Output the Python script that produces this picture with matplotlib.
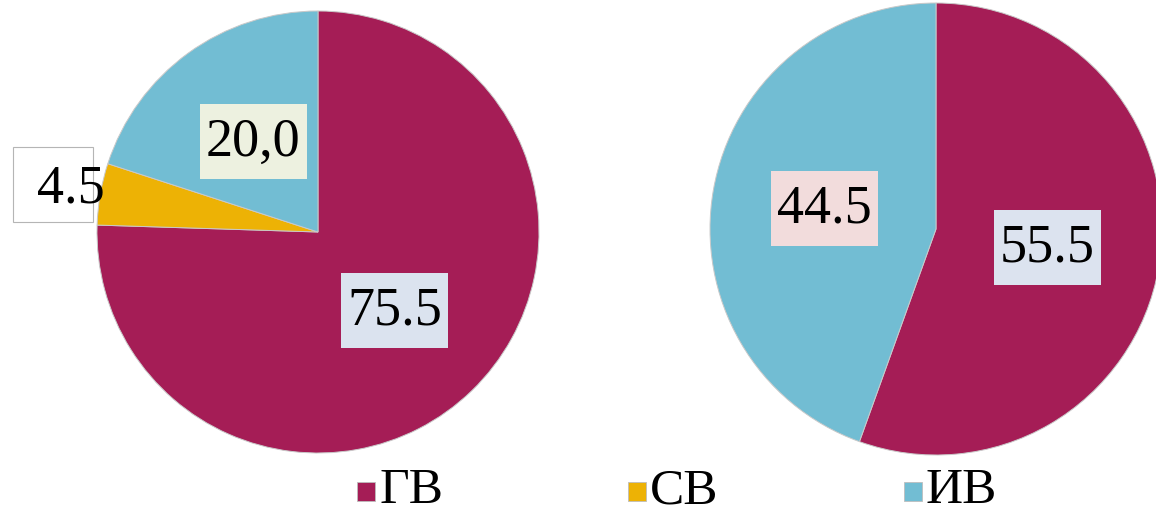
import matplotlib
matplotlib.use("Agg")
import matplotlib.pyplot as plt
from matplotlib.patches import Rectangle
import numpy as np

# Categories and shares (%) for the two pies
categories = ["ГВ", "СВ", "ИВ"]
left_values = [75.5, 4.5, 20.0]
left_labels = ["75.5", "4.5", "20,0"]
right_categories = ["ГВ", "ИВ"]
right_values = [55.5, 44.5]
right_labels = ["55.5", "44.5"]

colors = {"ГВ": "#A51D56", "СВ": "#EDB205", "ИВ": "#72BDD3"}
box_colors = {
    "left": {"ГВ": "#DBE3EF", "СВ": "white", "ИВ": "#EDF1E0"},
    "right": {"ГВ": "#DCE3EF", "ИВ": "#F2DCDC"},
}

plt.rcParams["font.family"] = ["Liberation Serif", "DejaVu Serif"]

W, H = 1156, 514
fig = plt.figure(figsize=(W / 100, H / 100), dpi=100)


def pie_axes(cx, cy, r):
    ax = fig.add_axes([(cx - r) / W, (H - cy - r) / H, 2 * r / W, 2 * r / H])
    ax.set_xlim(-1, 1)
    ax.set_ylim(-1, 1)
    ax.axis("off")
    return ax


def label_box(ax, x, y, r_px, w_px, h_px, dx_px, dy_px, face, edge):
    bw, bh = w_px / r_px, h_px / r_px
    bx = x + dx_px / r_px - bw / 2
    by = y + dy_px / r_px - bh / 2
    ax.add_patch(Rectangle((bx, by), bw, bh, facecolor=face, edgecolor=edge,
                           linewidth=0.8, clip_on=False, zorder=3))


def draw_pie(ax, cats, values, labels, boxes, r_px):
    wedges, _ = ax.pie(values, colors=[colors[c] for c in cats], startangle=90,
                       counterclock=False, radius=1,
                       wedgeprops=dict(edgecolor="#c9c9c9", linewidth=0.7))
    ax.set_xlim(-1, 1)
    ax.set_ylim(-1, 1)
    total = sum(values)
    for w, c, v, lab in zip(wedges, cats, values, labels):
        mid = np.deg2rad((w.theta1 + w.theta2) / 2)
        if v / total < 0.1:
            # small slice: label sits outside in a framed white box
            d = 1.133
            x, y = d * np.cos(mid), d * np.sin(mid)
            label_box(ax, x, y, r_px, 80, 75, -18, 4.5, "white", "#b5b5b5")
        else:
            d = 0.5
            x, y = d * np.cos(mid), d * np.sin(mid)
            label_box(ax, x, y, r_px, 107, 75, 0, 1, boxes[c], "none")
        ax.text(x, y, lab, ha="center", va="center", fontsize=39,
                color="black", zorder=4, clip_on=False)


ax1 = pie_axes(318, 232, 221)
draw_pie(ax1, categories, left_values, left_labels, box_colors["left"], 221)

ax2 = pie_axes(936, 229, 226)
draw_pie(ax2, right_categories, right_values, right_labels, box_colors["right"], 226)

# Legend along the bottom
legend_x = [357, 628, 904]
for c, lx in zip(categories, legend_x):
    fig.patches.append(Rectangle((lx / W, 13 / H), 18 / W, 19 / H,
                                 transform=fig.transFigure, facecolor=colors[c],
                                 edgecolor="#bdbdbd", linewidth=0.6))
    fig.text((lx + 22) / W, 11 / H, c, ha="left", va="baseline", fontsize=37,
             color="black")

fig.savefig("out.png", dpi=100)
